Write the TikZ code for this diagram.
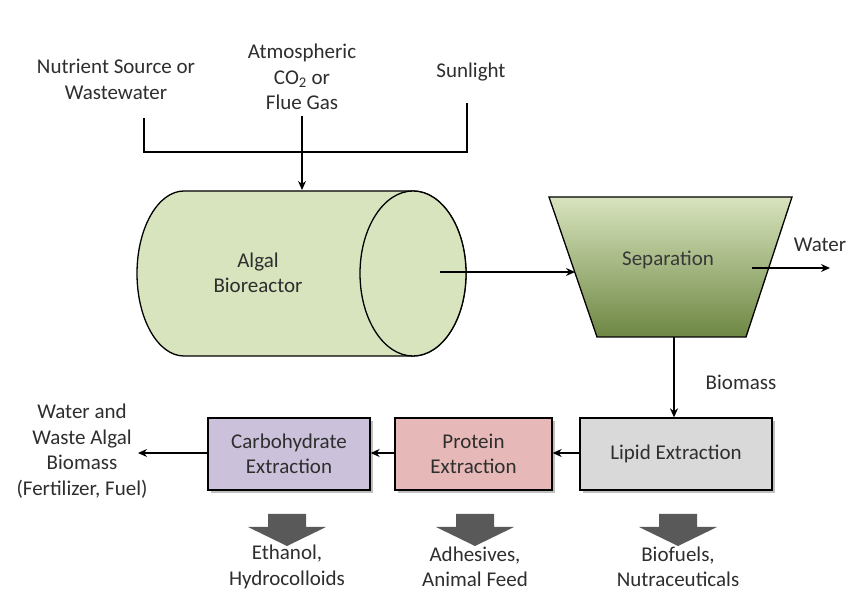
\documentclass[tikz,border=0pt]{standalone}
\usepackage{fontspec}
\setmainfont{Carlito}
\usetikzlibrary{arrows.meta}
\definecolor{txt}{HTML}{2E2E2E}
\definecolor{cylfill}{HTML}{D7E4BD}
\definecolor{septop}{HTML}{D8E4BE}
\definecolor{sepbot}{HTML}{6E8743}
\definecolor{lipid}{HTML}{D9D9D9}
\definecolor{protein}{HTML}{E6B9B8}
\definecolor{carb}{HTML}{CCC1DA}
\definecolor{blockarrow}{HTML}{595959}
\tikzset{
  lbl/.style={text=txt, align=center, font=\fontsize{21}{25.5}\selectfont, inner sep=0pt},
  conn/.style={draw=black, line width=1.3pt, -{Stealth[length=9pt,width=8pt]}},
  plain/.style={draw=black, line width=1.3pt},
  procbox/.style={draw=black, line width=1.3pt, text=txt, align=center, font=\fontsize{21}{25.5}\selectfont, inner sep=0pt, anchor=center},
  bigarrow/.style={fill=blockarrow, draw=none}
}
\begin{document}
\begin{tikzpicture}[x=1pt,y=1pt]
\useasboundingbox (0,0) rectangle (848,591);
\fill[white] (0,0) rectangle (848,591);

% input labels
\node[lbl] (nut) at (116,511.5) {Nutrient Source or\\Wastewater};
\node[lbl] (co2) at (302,514) {Atmospheric\\CO\textsubscript{2} or\\Flue Gas};
\node[lbl] (sun) at (471,519) {Sunlight};

% collector lines
\coordinate (c1) at (144,473);
\coordinate (c2) at (144,439);
\coordinate (c3) at (467,439);
\coordinate (c4) at (467,488);
\coordinate (cin) at (302,475);
\draw[plain] (c1) -- (c2) -- (c3) -- (c4);

% cylinder bioreactor
\draw[line width=1.3pt, fill=cylfill] (184,400) -- (413,400)
  arc[start angle=90,end angle=-90,x radius=53,y radius=82.5] -- (184,235)
  arc[start angle=270,end angle=90,x radius=47,y radius=82.5] -- cycle;
\draw[line width=1.3pt, fill=cylfill] (413,317.5) ellipse[x radius=53,y radius=82.5];
\node[lbl] (bio) at (258,318) {Algal\\Bioreactor};
\coordinate (biotop) at (302,401);
\coordinate (bioout) at (440,319);
\draw[conn] (cin) -- (biotop);

% separation trapezoid
\shade[top color=septop, bottom color=sepbot, draw=black, line width=1.3pt]
  (549,394) -- (792,394) -- (746,254) -- (597,254) -- cycle;
\node[lbl, text=black!78] (sep) at (668,331) {Separation};
\coordinate (sepin) at (575,319);
\coordinate (sepwater) at (752,323);
\coordinate (waterend) at (830,323);
\coordinate (sepbot) at (674,254);
\draw[conn] (bioout) -- (sepin);
\draw[conn] (sepwater) -- (waterend);
\node[lbl] (water) at (820,346) {Water};

% extraction boxes
\fill[black!25] (583,98) rectangle (775,170);
\fill[black!25] (398,98) rectangle (555,170);
\fill[black!25] (211,98) rectangle (373,170);
\node[procbox, fill=lipid, minimum width=192pt, minimum height=72pt] (lip) at (676,137) {Lipid Extraction};
\node[procbox, fill=protein, minimum width=157pt, minimum height=72pt] (pro) at (473.5,137) {Protein\\Extraction};
\node[procbox, fill=carb, minimum width=162pt, minimum height=72pt] (car) at (289,137) {Carbohydrate\\Extraction};

\node[lbl] (biomass) at (741,209) {Biomass};
\draw[conn] (sepbot) -- (lip.north -| sepbot);
\draw[conn] (lip.west |- 0,138) -- (pro.east |- 0,138);
\draw[conn] (pro.west |- 0,138) -- (car.east |- 0,138);
\coordinate (wasteend) at (138,138);
\draw[conn] (car.west |- 0,138) -- (wasteend);
\node[lbl] (waste) at (82,140) {Water and\\Waste Algal\\Biomass\\(Fertilizer, Fuel)};

% block arrows
\foreach \cx in {287,475,678}{
  \fill[bigarrow] (\cx-19,77) -- (\cx+19,77) -- (\cx+19,64) -- (\cx+39,64)
    -- (\cx,45) -- (\cx-39,64) -- (\cx-19,64) -- cycle;
}

% products
\node[lbl] (eth) at (287,24) {Ethanol,\\Hydrocolloids};
\node[lbl] (adh) at (475,24) {Adhesives,\\Animal Feed};
\node[lbl] (bfu) at (678,24) {Biofuels,\\Nutraceuticals};
\end{tikzpicture}
\end{document}
